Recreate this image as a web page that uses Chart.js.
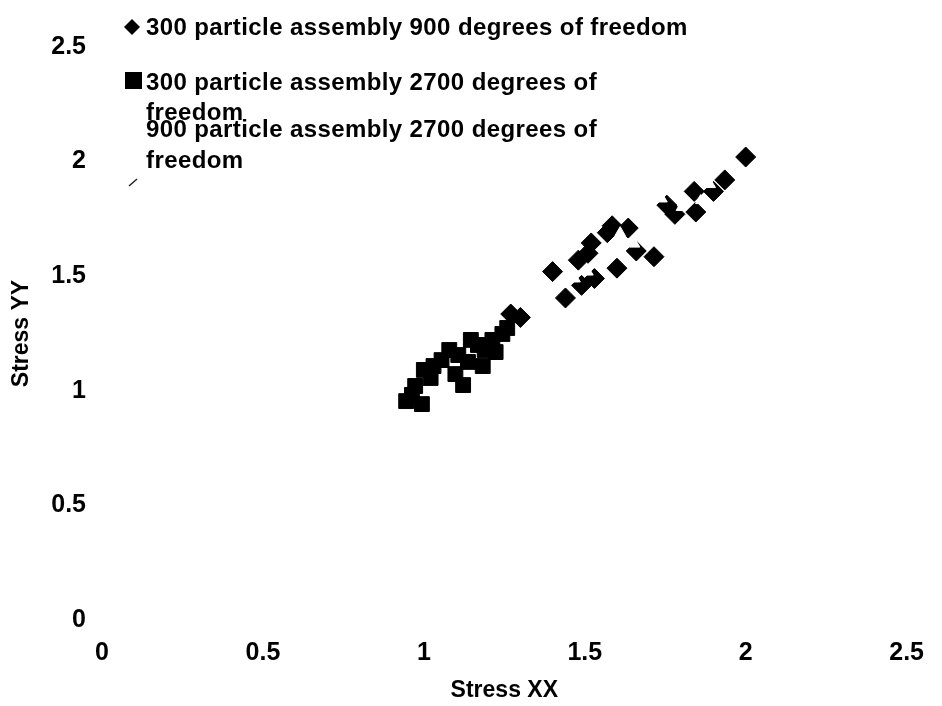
<!DOCTYPE html>
<html>
<head>
<meta charset="utf-8">
<script src="https://cdn.jsdelivr.net/npm/chart.js@4.4.0/dist/chart.umd.min.js"></script>
<style>
  html, body { margin: 0; padding: 0; background: #fff; }
  #wrap { width: 942px; height: 706px; }
</style>
</head>
<body>
<div id="wrap"><canvas id="stressChart"></canvas></div>
<script>
// 300 particle assembly, 900 degrees of freedom
const coarseX = [1.40, 1.44, 1.49, 1.53, 1.60, 1.48, 1.52, 1.585, 1.57, 1.635, 1.66, 1.715,
                 1.755, 1.78, 1.845, 1.84, 1.90, 1.935, 2.00, 1.27, 1.30, 1.51];
const coarseY = [1.52, 1.405, 1.46, 1.49, 1.535, 1.57, 1.645, 1.72, 1.69, 1.71, 1.61, 1.585,
                 1.81, 1.77, 1.78, 1.87, 1.87, 1.92, 2.02, 1.335, 1.32, 1.60];

// 300 particle assembly, 2700 degrees of freedom
const fineX = [0.945, 0.994, 0.973, 0.963, 1.030, 1.021, 1.079, 1.098, 1.122, 1.137, 1.146,
               1.183, 1.189, 1.213, 1.244, 1.259, 1.223, 1.055, 1.000, 1.107, 1.168];
const fineY = [0.955, 0.942, 1.021, 0.982, 1.108, 1.056, 1.178, 1.073, 1.025, 1.126, 1.222,
               1.108, 1.178, 1.222, 1.248, 1.274, 1.169, 1.134, 1.091, 1.156, 1.200];

// 900 particle assembly, 2700 degrees of freedom
const largeX = [1.47, 1.51, 1.61, 1.655, 1.705, 1.74, 1.80, 1.86, 1.89];
const largeY = [1.488, 1.518, 1.69, 1.64, 1.71, 1.837, 1.80, 1.83, 1.90];

const seriesLabels = [
  '300 particle assembly 900 degrees of freedom',
  '300 particle assembly 2700 degrees of freedom',
  '900 particle assembly 2700 degrees of freedom'
];
const legendLines = [
  ['300 particle assembly 900 degrees of freedom'],
  ['300 particle assembly 2700 degrees of', 'freedom'],
  ['900 particle assembly 2700 degrees of', 'freedom']
];
const tickValues = [0, 0.5, 1, 1.5, 2, 2.5];

const zip = (xs, ys) => xs.map((x, i) => ({ x, y: ys[i] }));

const tickFont = { family: '"Liberation Sans", Arial, sans-serif', size: 25, weight: 'bold' };
const titleFont = { family: '"Liberation Sans", Arial, sans-serif', size: 23, weight: 'bold' };

// legend drawn by hand so the wrapped labels sit where they should
const legendBox = {
  id: 'legendBox',
  afterDraw(chart) {
    const ctx = chart.ctx;
    const rows = [[35], [90, 120], [137, 168]];
    ctx.save();
    ctx.fillStyle = '#000';
    ctx.font = 'bold 24px "Liberation Sans", Arial, sans-serif';
    ctx.letterSpacing = '0.4px';
    ctx.textBaseline = 'alphabetic';
    legendLines.forEach((lines, i) => {
      lines.forEach((t, j) => ctx.fillText(t, 146, rows[i][j]));
    });

    // diamond
    ctx.beginPath();
    ctx.moveTo(132, 19);
    ctx.lineTo(140, 27);
    ctx.lineTo(132, 35);
    ctx.lineTo(124, 27);
    ctx.closePath();
    ctx.fill();
    // square
    ctx.fillRect(125, 72, 17, 17);
    // faint marker of the third series
    ctx.strokeStyle = '#222';
    ctx.lineWidth = 1.5;
    ctx.beginPath();
    ctx.moveTo(129, 186);
    ctx.lineTo(137, 179);
    ctx.stroke();
    ctx.restore();
  }
};

new Chart(document.getElementById('stressChart'), {
  type: 'scatter',
  data: {
    datasets: [
      {
        label: seriesLabels[0],
        data: zip(coarseX, coarseY),
        pointStyle: 'rectRot',
        pointRadius: 10,
        backgroundColor: '#000',
        borderColor: '#000',
        borderWidth: 1,
        order: 2
      },
      {
        label: seriesLabels[1],
        data: zip(fineX, fineY),
        pointStyle: 'rect',
        pointRadius: 10.5,
        backgroundColor: '#000',
        borderColor: '#000',
        borderWidth: 1,
        order: 3
      },
      {
        label: seriesLabels[2],
        data: zip(largeX, largeY),
        pointStyle: 'triangle',
        pointRadius: 6,
        backgroundColor: '#fff',
        borderColor: '#fff',
        borderWidth: 1,
        order: 1
      }
    ]
  },
  options: {
    responsive: true,
    maintainAspectRatio: false,
    animation: false,
    layout: { padding: { top: 47, right: 20, left: 0, bottom: 0 } },
    plugins: {
      legend: { display: false },
      tooltip: { enabled: false }
    },
    scales: {
      x: {
        type: 'linear',
        min: 0,
        max: 2.5,
        afterBuildTicks: (scale) => { scale.ticks = tickValues.map(v => ({ value: v })); },
        afterFit: (scale) => { scale.height = 86; },
        grid: { display: false, drawTicks: false },
        border: { display: false },
        ticks: { color: '#000', font: tickFont, padding: 18, maxRotation: 0, callback: (v) => String(v) },
        title: {
          display: true,
          text: 'Stress XX',
          color: '#000',
          font: titleFont,
          padding: { bottom: 2, top: 0 }
        }
      },
      y: {
        type: 'linear',
        min: 0,
        max: 2.5,
        afterBuildTicks: (scale) => { scale.ticks = tickValues.map(v => ({ value: v })); },
        afterFit: (scale) => { scale.width = 102; },
        grid: { display: false, drawTicks: false },
        border: { display: false },
        ticks: { color: '#000', font: tickFont, padding: 16, callback: (v) => String(v) },
        title: {
          display: true,
          text: 'Stress YY',
          color: '#000',
          font: titleFont,
          padding: { top: 8, bottom: 0 }
        }
      }
    }
  },
  plugins: [legendBox]
});
</script>
</body>
</html>
